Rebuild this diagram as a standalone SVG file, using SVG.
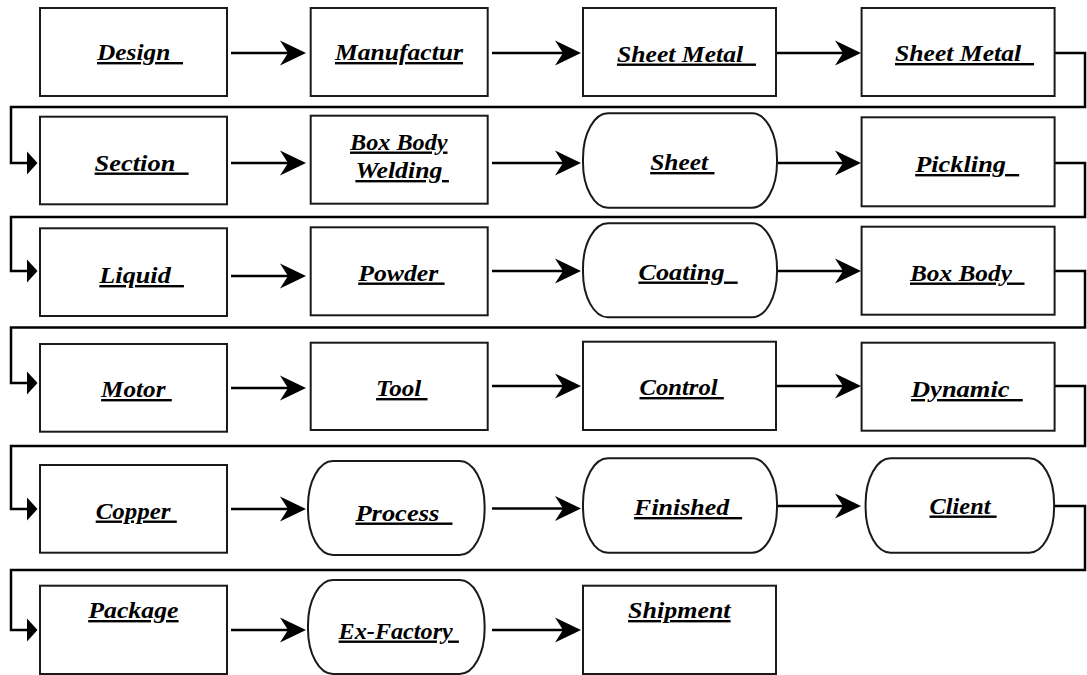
<svg xmlns="http://www.w3.org/2000/svg" width="1087" height="675" viewBox="0 0 1087 675">
<style>
.box{fill:#fff;stroke:#1a1a1a;stroke-width:2}
.conn{fill:none;stroke:#000;stroke-width:2.5}
.lbl{font-family:"Liberation Serif","DejaVu Serif",serif;font-weight:bold;font-style:italic;font-size:24px;text-decoration:underline;fill:#000;white-space:pre}
</style>
<defs>
<marker id="ah" markerUnits="userSpaceOnUse" viewBox="-28 -14 30 28" markerWidth="30" markerHeight="28" refX="-12" refY="0" orient="auto"><path d="M0,0 L-26,-12.5 L-18,0 L-26,12.5 Z" fill="#000"/></marker>
<marker id="sh" markerUnits="userSpaceOnUse" viewBox="-12 -13 14 26" markerWidth="14" markerHeight="26" refX="-9" refY="0" orient="auto"><path d="M0,0 L-10.5,-11.5 L-10.5,11.5 Z" fill="#000"/></marker>
</defs>
<g id="connectors">
<path class="conn" marker-end="url(#ah)" d="M231,53 H294"/>
<path class="conn" marker-end="url(#ah)" d="M492,53 H569"/>
<path class="conn" marker-end="url(#ah)" d="M777,53 H849"/>
<path class="conn" marker-end="url(#sh)" d="M1055,53 H1085 V107 H11 V163 H28.5"/>
<path class="conn" marker-end="url(#ah)" d="M231,163 H294"/>
<path class="conn" marker-end="url(#ah)" d="M492,163 H569"/>
<path class="conn" marker-end="url(#ah)" d="M777,163 H849"/>
<path class="conn" marker-end="url(#sh)" d="M1055,163 H1085 V217 H11 V271 H28.5"/>
<path class="conn" marker-end="url(#ah)" d="M231,276 H294"/>
<path class="conn" marker-end="url(#ah)" d="M492,271 H569"/>
<path class="conn" marker-end="url(#ah)" d="M777,271 H849"/>
<path class="conn" marker-end="url(#sh)" d="M1055,271 H1085 V327.5 H11 V383 H28.5"/>
<path class="conn" marker-end="url(#ah)" d="M231,388 H294"/>
<path class="conn" marker-end="url(#ah)" d="M492,386 H569"/>
<path class="conn" marker-end="url(#ah)" d="M777,386 H849"/>
<path class="conn" marker-end="url(#sh)" d="M1055,386 H1085 V446 H11 V509 H28.5"/>
<path class="conn" marker-end="url(#ah)" d="M231,509 H294"/>
<path class="conn" marker-end="url(#ah)" d="M492,508.5 H569"/>
<path class="conn" marker-end="url(#ah)" d="M777,506 H849"/>
<path class="conn" marker-end="url(#sh)" d="M1054,506 H1085 V570 H11 V630 H28.5"/>
<path class="conn" marker-end="url(#ah)" d="M231,630 H294"/>
<path class="conn" marker-end="url(#ah)" d="M492,630 H569"/>
</g>
<g id="n-design"><rect class="box" x="40" y="8" width="187" height="88"/><text class="lbl" xml:space="preserve" x="97" y="60" textLength="86" lengthAdjust="spacingAndGlyphs">Design  </text></g>
<g id="n-manufactur"><rect class="box" x="310.7" y="8" width="177" height="88"/><text class="lbl" xml:space="preserve" x="335" y="60" textLength="128" lengthAdjust="spacingAndGlyphs">Manufactur</text></g>
<g id="n-sheetmetal1"><rect class="box" x="583" y="8" width="193" height="88"/><text class="lbl" xml:space="preserve" x="617" y="61.5" textLength="139" lengthAdjust="spacingAndGlyphs">Sheet Metal  </text></g>
<g id="n-sheetmetal2"><rect class="box" x="861.6" y="8" width="193" height="88"/><text class="lbl" xml:space="preserve" x="895" y="61" textLength="139" lengthAdjust="spacingAndGlyphs">Sheet Metal  </text></g>

<g id="n-section"><rect class="box" x="40" y="116.7" width="187" height="87.6"/><text class="lbl" xml:space="preserve" x="94.6" y="170.5" textLength="94" lengthAdjust="spacingAndGlyphs">Section  </text></g>
<g id="n-boxbodywelding"><rect class="box" x="310.7" y="115.7" width="177" height="88"/><text class="lbl" xml:space="preserve" x="350" y="149.5" textLength="97.5" lengthAdjust="spacingAndGlyphs">Box Body</text><text class="lbl" xml:space="preserve" x="355.4" y="178" textLength="93.5" lengthAdjust="spacingAndGlyphs">Welding </text></g>
<g id="n-sheet"><rect class="box" x="583" y="113.3" width="194" height="94.4" rx="25" ry="45"/><text class="lbl" xml:space="preserve" x="650.2" y="170" textLength="64.3" lengthAdjust="spacingAndGlyphs">Sheet </text></g>
<g id="n-pickling"><rect class="box" x="861.6" y="117.3" width="193" height="89"/><text class="lbl" xml:space="preserve" x="915.2" y="172" textLength="104" lengthAdjust="spacingAndGlyphs">Pickling  </text></g>

<g id="n-liquid"><rect class="box" x="40" y="228.3" width="187" height="87.7"/><text class="lbl" xml:space="preserve" x="99.3" y="283" textLength="84.6" lengthAdjust="spacingAndGlyphs">Liquid  </text></g>
<g id="n-powder"><rect class="box" x="310.7" y="227.3" width="177" height="88"/><text class="lbl" xml:space="preserve" x="358.2" y="280.5" textLength="86.4" lengthAdjust="spacingAndGlyphs">Powder </text></g>
<g id="n-coating"><rect class="box" x="583" y="223.3" width="194" height="94" rx="25" ry="45"/><text class="lbl" xml:space="preserve" x="638.4" y="279.5" textLength="99.3" lengthAdjust="spacingAndGlyphs">Coating  </text></g>
<g id="n-boxbody"><rect class="box" x="861.6" y="226.7" width="193" height="88"/><text class="lbl" xml:space="preserve" x="910" y="280.5" textLength="114.5" lengthAdjust="spacingAndGlyphs">Box Body  </text></g>

<g id="n-motor"><rect class="box" x="40" y="344" width="187" height="87.7"/><text class="lbl" xml:space="preserve" x="101.1" y="397" textLength="70.7" lengthAdjust="spacingAndGlyphs">Motor </text></g>
<g id="n-tool"><rect class="box" x="310.7" y="342.7" width="177" height="87.3"/><text class="lbl" xml:space="preserve" x="376.1" y="396" textLength="51.4" lengthAdjust="spacingAndGlyphs">Tool </text></g>
<g id="n-control"><rect class="box" x="583" y="341.7" width="193" height="88.3"/><text class="lbl" xml:space="preserve" x="639.5" y="395" textLength="84.3" lengthAdjust="spacingAndGlyphs">Control </text></g>
<g id="n-dynamic"><rect class="box" x="861.6" y="342.7" width="193" height="88"/><text class="lbl" xml:space="preserve" x="911" y="397" textLength="111.8" lengthAdjust="spacingAndGlyphs">Dynamic  </text></g>

<g id="n-copper"><rect class="box" x="40" y="465" width="187" height="87.7"/><text class="lbl" xml:space="preserve" x="95.7" y="518.5" textLength="81.1" lengthAdjust="spacingAndGlyphs">Copper </text></g>
<g id="n-process"><rect class="box" x="308" y="461" width="176.6" height="94" rx="25" ry="45"/><text class="lbl" xml:space="preserve" x="355.4" y="520.5" textLength="97.1" lengthAdjust="spacingAndGlyphs">Process  </text></g>
<g id="n-finished"><rect class="box" x="583" y="458.3" width="194" height="94.4" rx="25" ry="45"/><text class="lbl" xml:space="preserve" x="634.1" y="515" textLength="108" lengthAdjust="spacingAndGlyphs">Finished  </text></g>
<g id="n-client"><rect class="box" x="865.6" y="458.3" width="188.5" height="94.4" rx="25" ry="45"/><text class="lbl" xml:space="preserve" x="929.5" y="513.5" textLength="67.1" lengthAdjust="spacingAndGlyphs">Client </text></g>

<g id="n-package"><rect class="box" x="40" y="585.7" width="187" height="88.3"/><text class="lbl" xml:space="preserve" x="88.2" y="618" textLength="90.4" lengthAdjust="spacingAndGlyphs">Package</text></g>
<g id="n-exfactory"><rect class="box" x="308" y="580" width="176.6" height="94" rx="25" ry="45"/><text class="lbl" xml:space="preserve" x="338.6" y="638.5" textLength="120.3" lengthAdjust="spacingAndGlyphs">Ex-Factory </text></g>
<g id="n-shipment"><rect class="box" x="583" y="585.7" width="193" height="88.3"/><text class="lbl" xml:space="preserve" x="628.1" y="618" textLength="102.5" lengthAdjust="spacingAndGlyphs">Shipment</text></g>
</svg>
